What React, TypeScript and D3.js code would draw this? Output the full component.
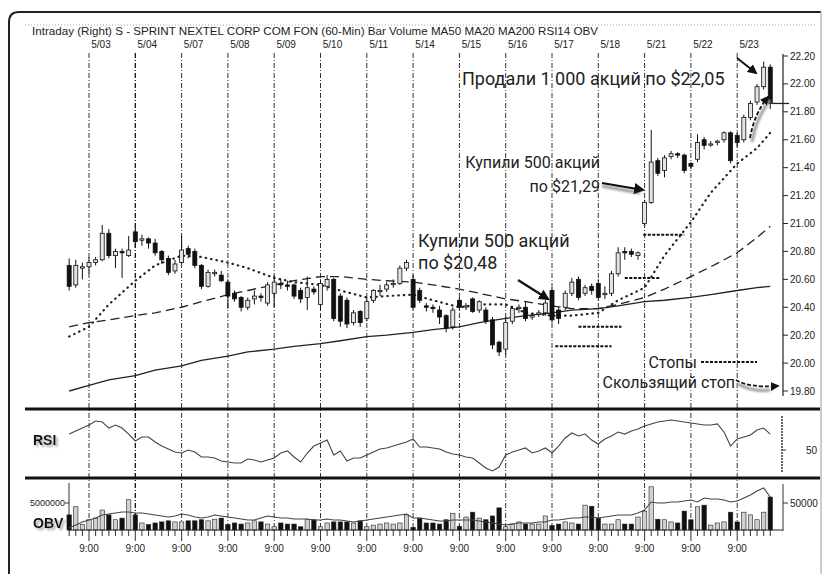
import React from 'react';
import * as d3 from 'd3';

const W = 829;
const H = 576;
const FIRST = -3;
const BARS_PER_DAY = 7;

const dayLabels = ['5/03', '5/04', '5/07', '5/08', '5/09', '5/10', '5/11', '5/14', '5/15', '5/16', '5/17', '5/18', '5/21', '5/22', '5/23'];
const priceTicks = [22.2, 22.0, 21.8, 21.6, 21.4, 21.2, 21.0, 20.8, 20.6, 20.4, 20.2, 20.0, 19.8];

const opens = [
  20.70, 20.56, 20.68,
  20.69, 20.72, 20.74, 20.93, 20.77, 20.80, 20.77,
  20.94, 20.88, 20.89, 20.86, 20.80, 20.75, 20.66,
  20.72, 20.82, 20.80, 20.70, 20.55, 20.64, 20.63,
  20.58, 20.50, 20.47, 20.40, 20.46, 20.48, 20.43,
  20.50, 20.57, 20.56, 20.56, 20.52, 20.47, 20.53,
  20.42, 20.55, 20.60, 20.48, 20.45, 20.29, 20.37,
  20.32, 20.45, 20.52, 20.53, 20.57, 20.57, 20.68,
  20.60, 20.52, 20.41, 20.40, 20.38, 20.34, 20.26,
  20.45, 20.41, 20.46, 20.38, 20.38, 20.31, 20.15,
  20.10, 20.30, 20.39, 20.40, 20.33, 20.35, 20.36,
  20.52, 20.38, 20.40, 20.50, 20.60, 20.50, 20.55,
  20.57, 20.49, 20.50, 20.64, 20.80, 20.80, 20.77,
  21.00, 21.15, 21.45, 21.38, 21.48, 21.50, 21.49,
  21.43, 21.46, 21.60, 21.57, 21.58, 21.60, 21.65,
  21.63, 21.60, 21.76, 21.87, 21.98, 22.12,
];
const highs = [
  20.75, 20.74, 20.72,
  20.76, 20.76, 20.99, 20.96, 20.82, 20.82, 20.91,
  20.97, 20.92, 20.90, 20.89, 20.81, 20.77, 20.74,
  20.91, 20.84, 20.82, 20.71, 20.67, 20.67, 20.66,
  20.60, 20.52, 20.48, 20.47, 20.52, 20.50, 20.58,
  20.63, 20.60, 20.59, 20.57, 20.54, 20.62, 20.55,
  20.60, 20.63, 20.61, 20.50, 20.47, 20.38, 20.38,
  20.47, 20.53, 20.56, 20.58, 20.60, 20.70, 20.74,
  20.63, 20.54, 20.43, 20.42, 20.41, 20.35, 20.40,
  20.47, 20.43, 20.47, 20.45, 20.40, 20.33, 20.16,
  20.33, 20.41, 20.42, 20.44, 20.36, 20.38, 20.45,
  20.54, 20.40, 20.52, 20.61, 20.62, 20.56, 20.57,
  20.60, 20.55, 20.66, 20.83, 20.83, 20.82, 20.80,
  21.17, 21.67, 21.47, 21.49, 21.52, 21.51, 21.50,
  21.44, 21.64, 21.62, 21.59, 21.60, 21.66, 21.66,
  21.66, 21.78, 21.88, 22.00, 22.16, 22.14,
];
const lows = [
  20.52, 20.54, 20.60,
  20.64, 20.70, 20.73, 20.75, 20.68, 20.61, 20.76,
  20.83, 20.84, 20.82, 20.77, 20.71, 20.63, 20.64,
  20.71, 20.75, 20.68, 20.53, 20.54, 20.62, 20.58,
  20.39, 20.44, 20.37, 20.38, 20.42, 20.44, 20.41,
  20.40, 20.53, 20.52, 20.46, 20.43, 20.38, 20.49,
  20.38, 20.52, 20.30, 20.26, 20.25, 20.27, 20.26,
  20.30, 20.43, 20.48, 20.51, 20.54, 20.56, 20.66,
  20.38, 20.43, 20.37, 20.36, 20.28, 20.22, 20.24,
  20.38, 20.38, 20.36, 20.36, 20.28, 20.10, 20.05,
  20.06, 20.28, 20.36, 20.30, 20.31, 20.33, 20.34,
  20.29, 20.28, 20.38, 20.48, 20.45, 20.48, 20.49,
  20.45, 20.46, 20.48, 20.62, 20.74, 20.76, 20.74,
  20.98, 21.14, 21.34, 21.33, 21.46, 21.47, 21.36,
  21.39, 21.44, 21.53, 21.55, 21.56, 21.58, 21.43,
  21.55, 21.58, 21.74, 21.85, 21.96, 21.82,
];
const closes = [
  20.55, 20.70, 20.69,
  20.72, 20.74, 20.93, 20.77, 20.80, 20.79, 20.81,
  20.87, 20.89, 20.86, 20.79, 20.74, 20.65, 20.71,
  20.81, 20.78, 20.70, 20.55, 20.65, 20.65, 20.59,
  20.48, 20.46, 20.40, 20.45, 20.48, 20.47, 20.56,
  20.58, 20.56, 20.55, 20.48, 20.46, 20.54, 20.51,
  20.57, 20.60, 20.32, 20.30, 20.28, 20.36, 20.29,
  20.44, 20.52, 20.52, 20.56, 20.57, 20.68, 20.72,
  20.40, 20.45, 20.40, 20.39, 20.33, 20.25, 20.38,
  20.40, 20.41, 20.37, 20.44, 20.30, 20.13, 20.08,
  20.29, 20.39, 20.40, 20.32, 20.34, 20.36, 20.43,
  20.31, 20.32, 20.50, 20.58, 20.47, 20.54, 20.52,
  20.47, 20.50, 20.64, 20.79, 20.79, 20.78, 20.79,
  21.15, 21.44, 21.36, 21.47, 21.50, 21.49, 21.38,
  21.41, 21.58, 21.56, 21.57, 21.59, 21.65, 21.45,
  21.58, 21.76, 21.86, 21.98, 22.12, 21.86,
];
// volume in millions of shares
const volumes = [
  2.8, 4.3, 1.0,
  1.9, 2.2, 3.7, 2.8, 1.9, 2.2, 5.6,
  2.8, 1.3, 1.0, 1.3, 1.5, 1.7, 1.5,
  1.5, 1.7, 1.7, 1.9, 1.7, 2.0, 2.2,
  1.0, 1.3, 1.1, 1.3, 1.7, 1.5, 1.1,
  0.6, 1.3, 1.1, 1.1, 0.6, 1.9, 1.9,
  0.6, 1.3, 1.5, 1.5, 1.5, 1.3, 1.7,
  0.6, 0.9, 1.1, 1.3, 1.1, 1.3, 2.8,
  0.5, 2.2, 1.3, 1.3, 1.1, 1.9, 3.1,
  0.7, 2.4, 3.3, 2.2, 1.9, 2.6, 4.1,
  0.6, 1.1, 1.5, 1.1, 1.1, 1.1, 2.6,
  0.8, 1.1, 1.5, 1.3, 1.1, 4.6, 4.4,
  2.2, 1.1, 1.1, 1.9, 1.1, 1.1, 2.4,
  3.5, 8.0, 2.0, 1.9, 1.5, 1.3, 3.5,
  1.9, 4.3, 4.6, 0.9, 1.3, 1.5, 3.3,
  1.5, 3.3, 2.8, 1.9, 3.3, 6.1,
];
const rsiValues = [
  63.3, 65.8, 68.3,
  70.8, 74.2, 73.3, 68.3, 70.8, 68.3, 63.3,
  57.5, 60.8, 60.8, 56.7, 53.3, 50.8, 48.3,
  47.5, 50.0, 48.3, 44.2, 44.2, 43.3, 40.8,
  40.0, 39.2, 39.2, 42.5, 41.7, 40.0, 41.7,
  43.3, 47.5, 49.2, 44.2, 40.0, 47.5, 53.3,
  55.8, 58.3, 45.8, 49.2, 40.8, 43.3, 43.3,
  45.8, 48.3, 50.8, 51.7, 53.3, 55.0, 56.7,
  59.2, 52.5, 52.5, 51.7, 50.8, 48.3, 46.7,
  45.8, 44.2, 43.3, 39.2, 35.0, 32.5, 35.8,
  45.8, 48.3, 50.0, 51.7, 47.5, 49.2, 51.7,
  47.5, 53.3, 60.0, 64.2, 61.7, 63.3, 58.3,
  55.0, 59.2, 61.7, 65.0, 63.3, 65.8, 67.5,
  70.0, 71.7, 73.3, 74.2, 75.0, 74.2, 73.3,
  72.5, 71.7, 70.8, 70.8, 71.7, 65.0, 53.3,
  59.2, 60.8, 62.5, 66.7, 68.3, 63.3,
];
// on-balance volume, thousands
const obvValues = [
  3.7, 9.3, 14.8,
  18.5, 22.2, 27.8, 29.6, 31.5, 33.3, 33.3,
  31.5, 31.5, 29.6, 27.8, 25.9, 24.1, 25.9,
  29.6, 27.8, 24.1, 22.2, 24.1, 27.8, 25.9,
  24.1, 22.2, 20.4, 18.5, 18.5, 22.2, 25.9,
  24.1, 22.2, 22.2, 20.4, 20.4, 20.4, 18.5,
  18.5, 20.4, 18.5, 18.5, 16.7, 14.8, 16.7,
  18.5, 20.4, 22.2, 24.1, 25.9, 27.8, 29.6,
  22.2, 22.2, 20.4, 18.5, 16.7, 16.7, 18.5,
  18.5, 18.5, 18.5, 16.7, 14.8, 13.0, 11.1,
  9.3, 11.1, 13.0, 13.0, 13.0, 14.8, 14.8,
  18.5, 18.5, 20.4, 22.2, 22.2, 24.1, 24.1,
  22.2, 24.1, 25.9, 27.8, 27.8, 27.8, 31.5,
  37.0, 51.9, 50.0, 50.0, 51.9, 51.9, 53.7,
  55.6, 51.9, 59.3, 57.4, 57.4, 55.6, 51.9,
  53.7, 59.3, 64.8, 72.2, 77.8, 61.1,
];

const maIndex = [-3, 0, 3, 7, 10, 14, 17, 21, 24, 28, 31, 35, 38, 42, 45, 49, 52, 56, 59, 63, 66, 70, 73, 77, 80, 84, 87, 91, 94, 98, 101, 103];
const ma20 = [20.19, 20.26, 20.42, 20.59, 20.70, 20.77, 20.76, 20.72, 20.68, 20.61, 20.58, 20.56, 20.52, 20.47, 20.48, 20.49, 20.45, 20.40, 20.42, 20.42, 20.36, 20.34, 20.34, 20.36, 20.45, 20.54, 20.77, 21.01, 21.22, 21.43, 21.54, 21.65];
const ma50 = [20.26, 20.29, 20.31, 20.34, 20.36, 20.40, 20.44, 20.49, 20.52, 20.56, 20.59, 20.62, 20.62, 20.60, 20.59, 20.58, 20.56, 20.53, 20.50, 20.46, 20.44, 20.41, 20.39, 20.39, 20.42, 20.47, 20.53, 20.62, 20.69, 20.79, 20.90, 20.98];
const ma200 = [19.80, 19.84, 19.88, 19.91, 19.95, 19.98, 20.02, 20.05, 20.08, 20.10, 20.12, 20.14, 20.16, 20.19, 20.20, 20.22, 20.24, 20.26, 20.29, 20.32, 20.34, 20.36, 20.38, 20.39, 20.41, 20.44, 20.45, 20.47, 20.49, 20.52, 20.54, 20.55];

const stopPrices = [20.12, 20.26, 20.61, 20.92];
const stopStart = [70.5, 74, 81, 83.8];
const stopEnd = [79, 80.5, 86.3, 90];

const title = 'Intraday  (Right)  S - SPRINT NEXTEL CORP COM FON  (60-Min)  Bar  Volume  MA50  MA20  MA200  RSI14  OBV';

const SANS = "'Liberation Sans', Arial, sans-serif";
const ANNO = "Roboto, 'Liberation Sans', Arial, sans-serif";

export default function App() {
  const x = d3.scaleLinear().domain([0, 98]).range([89, 737.2]);
  const y = d3.scaleLinear().domain([19.8, 22.2]).range([391, 56]);
  const yR = d3.scaleLinear().domain([25, 80]).range([480, 414]);
  const yV = d3.scaleLinear().domain([0, 5]).range([530, 503]);
  const yO = d3.scaleLinear().domain([0, 50]).range([530, 503]);

  const bars = opens.map((o, k) => ({
    i: k + FIRST, o, h: highs[k], l: lows[k], c: closes[k],
    v: volumes[k], r: rsiValues[k], ob: obvValues[k],
  }));

  const maLine = (vals: number[]) =>
    d3.line<number>().x((_, k) => x(maIndex[k])).y((v) => y(v))(vals) || '';
  const rsiPath = d3.line<any>().x((b) => x(b.i)).y((b) => yR(b.r))(bars) || '';
  const obvPath = d3.line<any>().x((b) => x(b.i)).y((b) => yO(b.ob))(bars) || '';

  const days = dayLabels.map((lab, d) => ({ lab, d, xx: x(d * BARS_PER_DAY) }));
  const bw = 4;

  return (
    <svg width={W} height={H} viewBox={`0 0 ${W} ${H}`} style={{ position: 'absolute', left: 0, top: 0, background: '#fff' }}>
      <defs>
        <filter id="blur" x="-20%" y="-50%" width="140%" height="200%">
          <feGaussianBlur stdDeviation="1.3" />
        </filter>
        <filter id="tshadow" x="-20%" y="-30%" width="150%" height="170%">
          <feDropShadow dx="2" dy="2" stdDeviation="1.2" floodColor="#999" floodOpacity="0.9" />
        </filter>
        <marker id="ah" viewBox="0 0 10 10" refX="8" refY="5" markerWidth="5" markerHeight="5" orient="auto-start-reverse">
          <path d="M0,0 L10,5 L0,10 z" fill="#111" />
        </marker>
      </defs>
      <rect x={0} y={0} width={W} height={H} fill="#fff" />
      {/* frame */}
      <path d="M9,574 L9,22 Q9,12 19,12 L821,12" fill="none" stroke="#222" strokeWidth={2} />
      <path d="M821,12 L821,574" fill="none" stroke="#bbb" strokeWidth={1.5} />
      <line x1={25} x2={817} y1={25} y2={25} stroke="#aaa" strokeDasharray="1,2" />

      {/* title */}
      <text x={32} y={35} fontFamily={SANS} fontSize={10.5} fill="#222" textLength={566} lengthAdjust="spacingAndGlyphs">{title}</text>

      {/* day labels and vertical lines */}
      {days.map((dd) => (
        <g key={dd.lab}>
          <text x={dd.xx + 12} y={48} textAnchor="middle" fontFamily={SANS} fontSize={10} fill="#222">{dd.lab}</text>
          <line x1={dd.xx} x2={dd.xx} y1={53} y2={531} stroke={dd.d === 1 ? '#111' : '#333'} strokeWidth={dd.d === 1 ? 1.3 : 1} strokeDasharray="5,2,1,2" />
          <text x={dd.xx} y={552} textAnchor="middle" fontFamily={SANS} fontSize={10} fill="#222">9:00</text>
        </g>
      ))}

      {/* moving averages */}
      <path d={maLine(ma200)} fill="none" stroke="#222" strokeWidth={1.3} />
      <path d={maLine(ma50)} fill="none" stroke="#222" strokeWidth={1.3} strokeDasharray="9,5" />
      <path d={maLine(ma20)} fill="none" stroke="#222" strokeWidth={2.2} strokeDasharray="0.5,5" strokeLinecap="round" />

      {/* candles */}
      {bars.map((b) => {
        const up = b.c >= b.o;
        const top = y(Math.max(b.o, b.c));
        const hgt = Math.max(1.2, Math.abs(y(b.o) - y(b.c)));
        return (
          <g key={b.i}>
            <line x1={x(b.i)} x2={x(b.i)} y1={y(b.h)} y2={y(b.l)} stroke="#111" strokeWidth={1} />
            <rect x={x(b.i) - bw / 2} y={top} width={bw} height={hgt} fill={up ? '#e4e4e4' : '#111'} stroke="#111" strokeWidth={0.8} />
          </g>
        );
      })}

      {/* last price marker */}
      <line x1={x(103) + 2} x2={789} y1={y(closes[closes.length - 1])} y2={y(closes[closes.length - 1])} stroke="#222" strokeWidth={1.3} />

      {/* price axis */}
      <line x1={783} x2={783} y1={54} y2={396} stroke="#222" strokeWidth={1.2} />
      {priceTicks.map((p) => (
        <g key={p}>
          <line x1={783} x2={788} y1={y(p)} y2={y(p)} stroke="#222" />
          <text x={790} y={y(p) + 3.5} fontFamily={SANS} fontSize={10} fill="#222">{p.toFixed(2)}</text>
        </g>
      ))}

      {/* stops */}
      {stopPrices.map((p, k) => (
        <g key={k}>
          <line x1={x(stopStart[k])} x2={x(stopEnd[k])} y1={y(p) + 3} y2={y(p) + 3} stroke="#999" strokeWidth={3} filter="url(#blur)" />
          <line x1={x(stopStart[k])} x2={x(stopEnd[k])} y1={y(p)} y2={y(p)} stroke="#111" strokeWidth={2} strokeDasharray="3,1.5" />
        </g>
      ))}

      {/* annotations */}
      <text x={462} y={85} fontFamily={ANNO} fontSize={18} fill="#222">Продали 1 000 акций по $22,05</text>
      <text x={600} y={168} textAnchor="end" fontFamily={ANNO} fontSize={16} fill="#222">Купили 500 акций</text>
      <text x={600} y={192} textAnchor="end" fontFamily={ANNO} fontSize={16} fill="#222">по $21,29</text>
      <text x={418} y={247} fontFamily={ANNO} fontSize={18} fill="#222">Купили 500 акций</text>
      <text x={418} y={269} fontFamily={ANNO} fontSize={18} fill="#222">по $20,48</text>

      {/* arrows */}
      <line x1={602} y1={186} x2={640} y2={193} stroke="#999" strokeWidth={3} filter="url(#blur)" />
      <line x1={602} y1={183} x2={643} y2={190} stroke="#111" strokeWidth={2.2} markerEnd="url(#ah)" />
      <line x1={518} y1={280} x2={548} y2={299} stroke="#111" strokeWidth={2.2} markerEnd="url(#ah)" />
      <line x1={737} y1={58} x2={756} y2={73} stroke="#111" strokeWidth={2} markerEnd="url(#ah)" />
      <path d="M752,142 Q756,118 770,100" fill="none" stroke="#999" strokeWidth={3} filter="url(#blur)" />
      <path d="M750,138 Q754,114 768,97" fill="none" stroke="#111" strokeWidth={1.8} strokeDasharray="4,2" markerEnd="url(#ah)" />

      {/* legend */}
      <text x={697} y={368} textAnchor="end" fontFamily={ANNO} fontSize={16} fill="#222">Стопы</text>
      <line x1={701} x2={757} y1={365} y2={365} stroke="#999" strokeWidth={3} filter="url(#blur)" />
      <line x1={701} x2={757} y1={362} y2={362} stroke="#111" strokeWidth={2} strokeDasharray="3,1.5" />
      <text x={735} y={388} textAnchor="end" fontFamily={ANNO} fontSize={16} fill="#222">Скользящий стоп</text>
      <path d="M738,384 Q752,392 770,390" fill="none" stroke="#999" strokeWidth={3} filter="url(#blur)" />
      <path d="M736,380 Q750,388 778,386" fill="none" stroke="#111" strokeWidth={1.8} strokeDasharray="4,2" markerEnd="url(#ah)" />

      {/* panel separators */}
      <line x1={25} x2={820} y1={409} y2={409} stroke="#111" strokeWidth={3} />
      <line x1={25} x2={820} y1={478} y2={478} stroke="#111" strokeWidth={3} />

      {/* RSI panel */}
      <text x={33} y={445} fontFamily={SANS} fontSize={14} fontWeight="bold" fill="#111" filter="url(#tshadow)">RSI</text>
      <path d={rsiPath} fill="none" stroke="#444" strokeWidth={1.1} />
      <line x1={782} x2={782} y1={416} y2={473} stroke="#333" strokeWidth={1.5} strokeDasharray="2,1" />
      <line x1={782} x2={786} y1={yR(50)} y2={yR(50)} stroke="#333" />
      <text x={806} y={yR(50) + 4} fontFamily={SANS} fontSize={10} fill="#222">50</text>

      {/* OBV / volume panel */}
      <line x1={69} x2={69} y1={483} y2={531} stroke="#333" />
      <line x1={65} x2={69} y1={yV(5)} y2={yV(5)} stroke="#333" />
      <text x={65} y={yV(5) + 3} textAnchor="end" fontFamily={SANS} fontSize={9} fill="#222">5000000</text>
      <text x={33} y={528} fontFamily={SANS} fontSize={14} fontWeight="bold" fill="#111" filter="url(#tshadow)">OBV</text>
      {bars.map((b) => {
        const up = b.c >= b.o;
        return (
          <rect key={'v' + b.i} x={x(b.i) - 2.2} y={yV(b.v)} width={4.4} height={yV(0) - yV(b.v)} fill={up ? '#d0d0d0' : '#111'} stroke="#222" strokeWidth={0.6} />
        );
      })}
      <path d={obvPath} fill="none" stroke="#444" strokeWidth={1.1} />
      <line x1={69} x2={783} y1={530} y2={530} stroke="#222" strokeWidth={1.2} />
      {bars.map((b) => (
        <line key={'t' + b.i} x1={x(b.i)} x2={x(b.i)} y1={530} y2={(b.i % BARS_PER_DAY === 0) ? 541 : 536} stroke="#333" />
      ))}
      <line x1={783} x2={783} y1={484} y2={531} stroke="#333" />
      <line x1={783} x2={788} y1={yO(50)} y2={yO(50)} stroke="#333" />
      <text x={790} y={yO(50) + 3.5} fontFamily={SANS} fontSize={10} fill="#222">50000</text>
    </svg>
  );
}
